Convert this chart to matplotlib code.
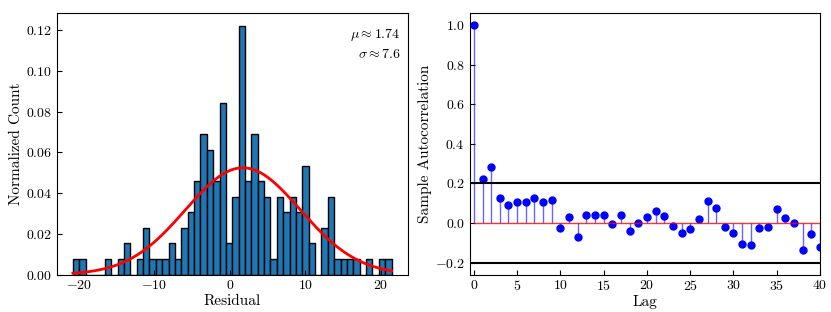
import matplotlib
matplotlib.use("Agg")
import matplotlib.pyplot as plt
import numpy as np


# --------------------------------------------------
# DATA
# --------------------------------------------------

bin_lo = -20.75
bin_hi = 21.42
bin_counts = [
    1, 1, 0, 0, 0, 1, 0, 1, 2, 0,
    1, 3, 1, 1, 1, 2, 1, 3, 4, 6,
    9, 8, 6, 11, 2, 5, 16, 6, 9, 6,
    5, 1, 5, 4, 5, 4, 7, 2, 0, 3,
    5, 1, 1, 1, 1, 0, 1, 0, 1, 1,
]

mu = 1.74
sigma = 7.6

lags = list(range(41))
acf = [
    1.0, 0.220, 0.285, 0.129, 0.092, 0.107, 0.104, 0.128, 0.105, 0.118,
    -0.027, 0.031, -0.069, 0.042, 0.039, 0.040, -0.007, 0.042, -0.039, 0.002,
    0.032, 0.060, 0.034, -0.013, -0.050, -0.031, 0.021, 0.109, 0.078, -0.020,
    -0.050, -0.107, -0.113, -0.024, -0.018, 0.069, 0.024, 0.001, -0.134, -0.055,
    -0.123,
]
conf_band = 0.2


# --------------------------------------------------
# STYLE
# --------------------------------------------------

plt.rcParams["font.family"] = "serif"
plt.rcParams["font.serif"] = ["cmr10", "DejaVu Serif"]
plt.rcParams["mathtext.fontset"] = "cm"
plt.rcParams["axes.formatter.use_mathtext"] = True
plt.rcParams["font.size"] = 10
plt.rcParams["xtick.direction"] = "in"
plt.rcParams["ytick.direction"] = "in"


fig, (ax1, ax2) = plt.subplots(1, 2, figsize=(8.31, 3.12), dpi=100)
fig.subplots_adjust(left=0.0686, right=0.9868, top=0.958, bottom=0.12, wspace=0.177)


# --------------------------------------------------
# HISTOGRAM
# --------------------------------------------------

edges = np.linspace(bin_lo, bin_hi, len(bin_counts) + 1)
centers = 0.5 * (edges[:-1] + edges[1:])

ax1.hist(
    centers,
    bins=edges,
    weights=bin_counts,
    density=True,
    color="#1f77b4",
    edgecolor="black",
    linewidth=1.0,
)

xs = np.linspace(bin_lo, bin_hi, 300)
pdf = np.exp(-0.5 * ((xs - mu) / sigma) ** 2) / (sigma * np.sqrt(2 * np.pi))
ax1.plot(xs, pdf, color="red", linewidth=2)

ax1.text(0.98, 0.915, r"$\mu \approx %.2f$" % mu, transform=ax1.transAxes,
         ha="right", va="center", fontsize=10)
ax1.text(0.98, 0.84, r"$\sigma \approx %.1f$" % sigma, transform=ax1.transAxes,
         ha="right", va="center", fontsize=10)

ax1.set_xlabel("Residual", fontsize=11, labelpad=1)
ax1.set_ylabel("Normalized Count", fontsize=11, labelpad=2)
ax1.set_xticks([-20, -10, 0, 10, 20])
ax1.set_yticks([0.0, 0.02, 0.04, 0.06, 0.08, 0.10, 0.12])


# --------------------------------------------------
# AUTOCORRELATION
# --------------------------------------------------

markerline, stemlines, baseline = ax2.stem(lags, acf, linefmt="b-", markerfmt="bo", basefmt="r-")
markerline.set_markersize(5)
stemlines.set_alpha(0.6)
stemlines.set_linewidth(1.0)
baseline.set_linewidth(1.0)
baseline.set_alpha(0.8)

ax2.axhline(conf_band, color="black", linewidth=1.5)
ax2.axhline(-conf_band, color="black", linewidth=1.5)

ax2.set_xlim(-0.5, 40)
ax2.set_ylim(-0.26, 1.06)
ax2.set_xticks(range(0, 41, 5))
ax2.set_yticks([-0.2, 0.0, 0.2, 0.4, 0.6, 0.8, 1.0])
ax2.set_xlabel("Lag", fontsize=11, labelpad=1)
ax2.set_ylabel("Sample Autocorrelation", fontsize=11, labelpad=2)


fig.savefig("out.png", dpi=100)
plt.close(fig)
